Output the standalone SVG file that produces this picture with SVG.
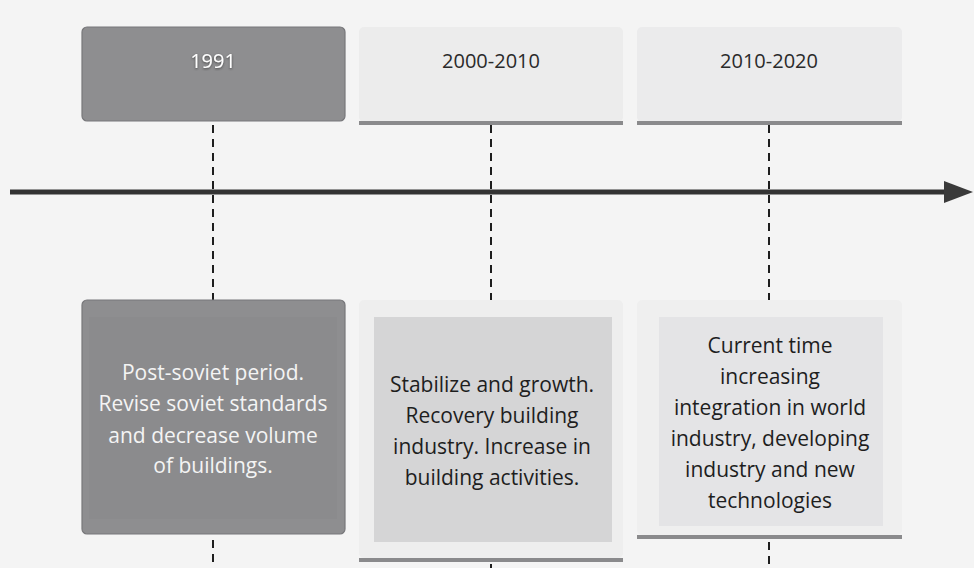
<svg xmlns="http://www.w3.org/2000/svg" width="974" height="568" viewBox="0 0 974 568">
  <defs>
    <style>
      .dash { stroke: #1e1e1e; stroke-width: 2; stroke-dasharray: 8 6; fill: none; }
      .lbl { font-family: "Open Sans", "Noto Sans", sans-serif; font-size: 20px; text-anchor: middle; }
      .body { font-family: "Open Sans", "Noto Sans", sans-serif; font-size: 21px; text-anchor: middle; }
      .dark { fill: #8e8e90; stroke: #77777a; stroke-width: 1.2; }
      .bar { fill: #8a8a8c; }
    </style>
    <filter id="sh" x="-20%" y="-20%" width="140%" height="140%">
      <feDropShadow dx="0" dy="1" stdDeviation="1" flood-color="#303030" flood-opacity="0.8"/>
    </filter>
    <marker id="ah" markerWidth="30" markerHeight="24" refX="0" refY="11" orient="auto" markerUnits="userSpaceOnUse">
      <path d="M0,0 L29,11 L0,22 Z" fill="#3a3a3a"/>
    </marker>
  </defs>
  <rect width="974" height="568" fill="#f4f4f4"/>

  <g id="connectors">
    <line class="dash" x1="213" y1="125" x2="213" y2="300"/>
    <line class="dash" x1="491" y1="125" x2="491" y2="300"/>
    <line class="dash" x1="769" y1="125" x2="769" y2="300"/>
    <line class="dash" x1="213" y1="540" x2="213" y2="568"/>
    <line class="dash" x1="491" y1="564" x2="491" y2="568"/>
    <line class="dash" x1="769" y1="542" x2="769" y2="568"/>
    <line x1="10" y1="192" x2="944" y2="192" stroke="#333333" stroke-width="5" marker-end="url(#ah)"/>
  </g>

  <g id="top-1991">
    <rect class="dark" x="82" y="27" width="263" height="94" rx="5"/>
    <text class="lbl" x="213" y="68" fill="#ffffff" filter="url(#sh)">1991</text>
  </g>
  <g id="top-2000-2010">
    <rect x="359" y="27" width="264" height="95" rx="5" fill="#ececec"/>
    <rect class="bar" x="359" y="121" width="264" height="4"/>
    <text class="lbl" x="491" y="68" fill="#2a2a2a">2000-2010</text>
  </g>
  <g id="top-2010-2020">
    <rect x="637" y="27" width="265" height="95" rx="5" fill="#ebebec"/>
    <rect class="bar" x="637" y="121" width="265" height="4" fill="#a8a8aa"/>
    <text class="lbl" x="769" y="68" fill="#2a2a2a">2010-2020</text>
  </g>

  <g id="box-1991">
    <rect class="dark" x="82" y="300" width="263" height="234" rx="5"/>
    <rect x="89" y="317" width="248" height="202" fill="#8b8b8d"/>
    <g class="body" fill="#f4f4f4">
      <text x="213" y="380">Post-soviet period.</text>
      <text x="213" y="411">Revise soviet standards</text>
      <text x="213" y="443">and decrease volume</text>
      <text x="213" y="473">of buildings.</text>
    </g>
  </g>

  <g id="box-2000-2010">
    <rect x="359" y="300" width="264" height="258" rx="5" fill="#eeeeee"/>
    <rect class="bar" x="359" y="558" width="264" height="4" fill="#9a9a9c"/>
    <rect x="374" y="317" width="238" height="225" fill="#d5d5d6"/>
    <g class="body" fill="#1e1e1e">
      <text x="492" y="392">Stabilize and growth.</text>
      <text x="492" y="423">Recovery building</text>
      <text x="492" y="454">industry. Increase in</text>
      <text x="492" y="485">building activities.</text>
    </g>
  </g>

  <g id="box-2010-2020">
    <rect x="637" y="300" width="265" height="235" rx="5" fill="#efefef"/>
    <rect class="bar" x="637" y="535" width="265" height="4" fill="#b4b4b6"/>
    <rect x="659" y="317" width="224" height="209" fill="#e4e4e6"/>
    <g class="body" fill="#1e1e1e">
      <text x="770" y="353">Current time</text>
      <text x="770" y="384">increasing</text>
      <text x="770" y="415">integration in world</text>
      <text x="770" y="446">industry, developing</text>
      <text x="770" y="477">industry and new</text>
      <text x="770" y="508">technologies</text>
    </g>
  </g>
</svg>
